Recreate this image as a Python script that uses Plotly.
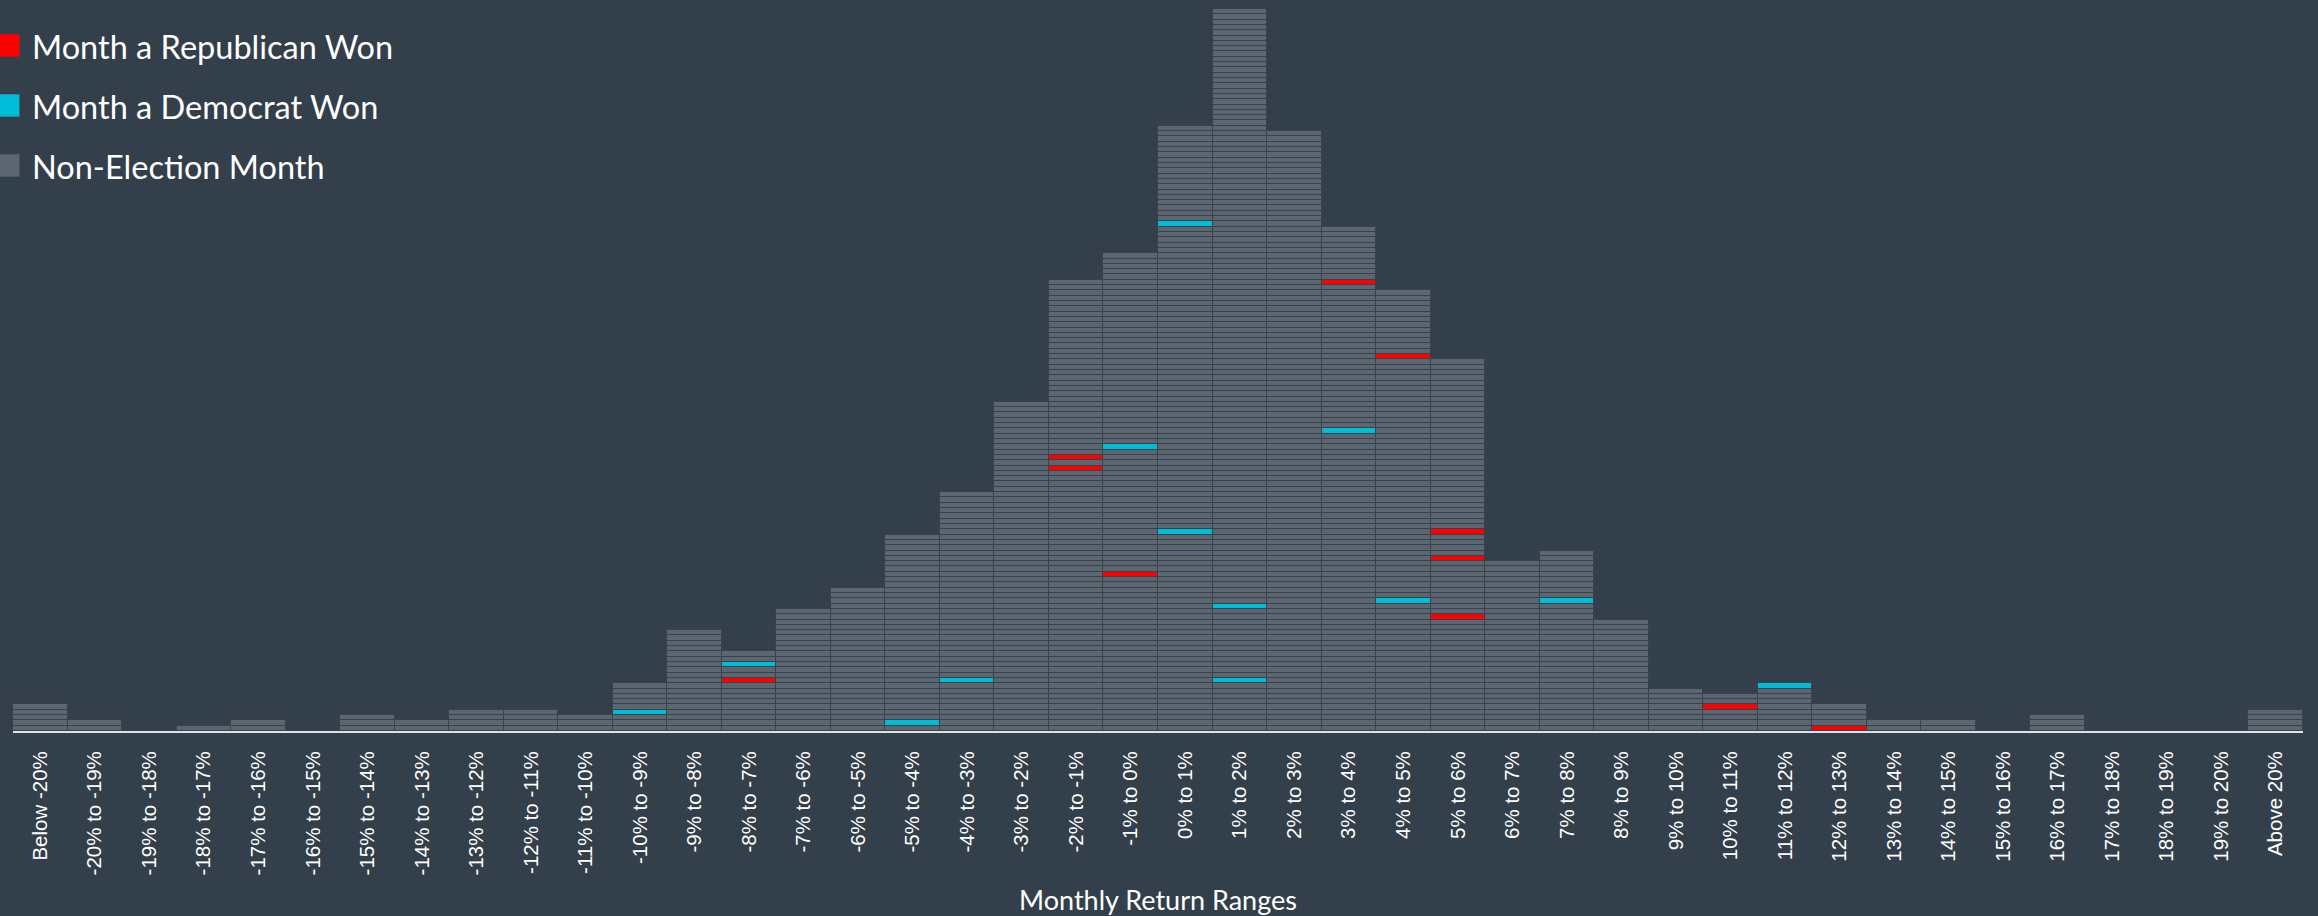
import plotly.graph_objects as go

# ---------------- data ----------------
categories = [
    "Below -20%", "-20% to -19%", "-19% to -18%", "-18% to -17%", "-17% to -16%",
    "-16% to -15%", "-15% to -14%", "-14% to -13%", "-13% to -12%", "-12% to -11%",
    "-11% to -10%", "-10% to -9%", "-9% to -8%", "-8% to -7%", "-7% to -6%",
    "-6% to -5%", "-5% to -4%", "-4% to -3%", "-3% to -2%", "-2% to -1%",
    "-1% to 0%", "0% to 1%", "1% to 2%", "2% to 3%", "3% to 4%",
    "4% to 5%", "5% to 6%", "6% to 7%", "7% to 8%", "8% to 9%",
    "9% to 10%", "10% to 11%", "11% to 12%", "12% to 13%", "13% to 14%",
    "14% to 15%", "15% to 16%", "16% to 17%", "17% to 18%", "18% to 19%",
    "19% to 20%", "Above 20%",
]

# number of months falling in each return range
month_counts = [
    5, 2, 0, 1, 2, 0, 3, 2, 4, 4,
    3, 9, 19, 15, 23, 27, 37, 45, 62, 85,
    90, 114, 136, 113, 95, 83, 70, 32, 34, 21,
    8, 7, 9, 5, 2, 2, 0, 3, 0, 0,
    0, 4,
]

# (range, position of the month inside the stack, counted from the bottom)
republican_won = [
    ("-8% to -7%", 9), ("-2% to -1%", 49), ("-2% to -1%", 51), ("-1% to 0%", 29),
    ("3% to 4%", 84), ("4% to 5%", 70), ("5% to 6%", 21), ("5% to 6%", 32),
    ("5% to 6%", 37), ("10% to 11%", 4), ("12% to 13%", 0),
]
democrat_won = [
    ("-10% to -9%", 3), ("-8% to -7%", 12), ("-5% to -4%", 1), ("-4% to -3%", 9),
    ("-1% to 0%", 53), ("0% to 1%", 37), ("0% to 1%", 95), ("1% to 2%", 9),
    ("1% to 2%", 23), ("3% to 4%", 56), ("4% to 5%", 24), ("7% to 8%", 24),
    ("11% to 12%", 8),
]

series_names = ["Month a Republican Won", "Month a Democrat Won", "Non-Election Month"]

# ---------------- style ----------------
BG = "#333f4a"
GRAY = "#5b6671"
RED = "#ff0000"
CYAN = "#00bcd6"
SEP = "#37424d"
TEXT = "#ffffff"

W, H = 2318, 916
ML, MR, MT, MB = 13, 15, 9, 185
PW, PH = W - ML - MR, H - MT - MB

rep_set, dem_set = set(republican_won), set(democrat_won)
units = {"rep": ([], []), "dem": ([], []), "non": ([], [])}
for cat, n in zip(categories, month_counts):
    for k in range(n):
        key = "rep" if (cat, k) in rep_set else "dem" if (cat, k) in dem_set else "non"
        units[key][0].append(cat)
        units[key][1].append(k)

fig = go.Figure()
for key, name, color in [("non", series_names[2], GRAY),
                         ("rep", series_names[0], RED),
                         ("dem", series_names[1], CYAN)]:
    xs, bases = units[key]
    fig.add_trace(go.Bar(
        x=xs, y=[1] * len(xs), base=bases, width=1, name=name,
        marker=dict(color=color, line=dict(color=SEP, width=1)),
        showlegend=False, hovertemplate="%{x}<extra>" + name + "</extra>",
    ))


def px_x(p):
    return (p - ML) / PW


def px_y(p):
    return (H - MB - p) / PH


# legend drawn as shapes + text
legend_rows = [(series_names[0], RED, 45.5), (series_names[1], CYAN, 105.5), (series_names[2], GRAY, 165.5)]
shapes, annotations = [], []
for name, color, yc in legend_rows:
    shapes.append(dict(type="rect", xref="paper", yref="paper",
                       x0=px_x(-3), x1=px_x(19.5), y0=px_y(yc + 11.2), y1=px_y(yc - 11.2),
                       fillcolor=color, line=dict(width=0), layer="above"))
    annotations.append(dict(text=name, xref="paper", yref="paper", x=px_x(30), y=px_y(yc + 1),
                            xanchor="left", yanchor="middle", showarrow=False,
                            font=dict(family="Lato", size=32.5, color=TEXT)))

fig.update_layout(
    width=W, height=H,
    margin=dict(l=ML, r=MR, t=MT, b=MB, pad=0),
    paper_bgcolor=BG, plot_bgcolor=BG,
    barmode="overlay", bargap=0,
    showlegend=False,
    shapes=shapes, annotations=annotations,
    xaxis=dict(
        type="category", categoryorder="array", categoryarray=categories,
        range=[-0.5, len(categories) - 0.5],
        tickmode="array", tickvals=categories, ticktext=categories,
        tickangle=-90, ticks="", showgrid=False, zeroline=False,
        showline=True, linecolor="#dfe3e7", linewidth=2,
        tickfont=dict(family="Liberation Sans", size=20.5, color=TEXT),
        ticklabelstandoff=10,
        title=dict(text="Monthly Return Ranges", standoff=20,
                   font=dict(family="Lato", size=27, color=TEXT)),
        automargin=False, fixedrange=True,
    ),
    yaxis=dict(visible=False, range=[0, max(month_counts)], fixedrange=True),
)

fig.write_html(
    "out.html",
    config={"displayModeBar": False},
    post_script="document.body.style.margin='0';document.body.style.overflow='hidden';",
)
